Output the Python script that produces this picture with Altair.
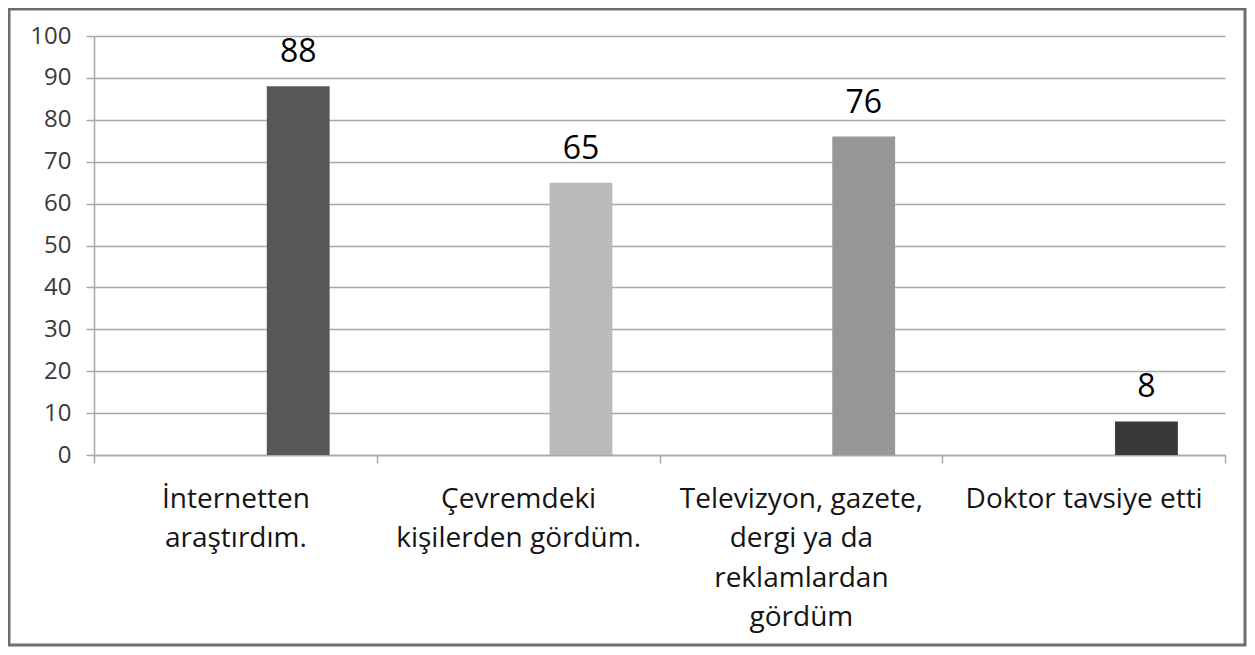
import altair as alt
import pandas as pd

categories = [
    "İnternetten\naraştırdım.",
    "Çevremdeki\nkişilerden gördüm.",
    "Televizyon, gazete,\ndergi  ya da\nreklamlardan\ngördüm",
    "Doktor tavsiye etti",
]
values = [88, 65, 76, 8]
series_slots = ["s1", "s2", "s3"]
bar_slot = ["s3", "s3", "s3", "s3"]
bar_colors = ["#575757", "#bababa", "#979797", "#383838"]

df = pd.DataFrame({"kategori": categories, "deger": values, "seri": bar_slot})

FONT = "Open Sans"
GRID = "#a9a9a9"

x_enc = alt.X(
    "kategori:N",
    sort=categories,
    scale=alt.Scale(paddingInner=0, paddingOuter=0),
    axis=alt.Axis(
        title=None,
        labelAngle=0,
        labelAlign="center",
        labelBaseline="top",
        labelExpr="split(datum.label, '\\n')",
        labelFont=FONT,
        labelFontSize=28,
        labelLineHeight=39.5,
        labelColor="#141414",
        labelPadding=22,
        labelLimit=400,
        tickBand="extent",
        tickSize=8,
        tickColor=GRID,
        tickWidth=1.5,
        domainColor=GRID,
        domainWidth=1.5,
        grid=False,
    ),
)
xoff_enc = alt.XOffset(
    "seri:N",
    scale=alt.Scale(domain=series_slots, paddingInner=0, paddingOuter=0.75),
)
y_enc = alt.Y(
    "deger:Q",
    scale=alt.Scale(domain=[0, 100], nice=False),
    axis=alt.Axis(
        title=None,
        values=list(range(0, 101, 10)),
        labelFont=FONT,
        labelFontSize=24,
        labelColor="#3a3a3a",
        labelPadding=15,
        tickSize=8,
        tickColor=GRID,
        tickWidth=1.5,
        domainColor=GRID,
        domainWidth=1.5,
        grid=True,
        gridColor=GRID,
        gridWidth=1.5,
    ),
)

base = alt.Chart(df)

bars = base.mark_bar().encode(
    x=x_enc,
    xOffset=xoff_enc,
    y=y_enc,
    color=alt.Color(
        "kategori:N",
        scale=alt.Scale(domain=categories, range=bar_colors),
        legend=None,
    ),
)

labels = base.mark_text(
    baseline="bottom", dy=-17, font=FONT, fontSize=32, color="#000000"
).encode(
    x=alt.X("kategori:N", sort=categories),
    xOffset=alt.XOffset("seri:N"),
    y=alt.Y("deger:Q"),
    text=alt.Text("deger:Q"),
)

frame = alt.Chart(pd.DataFrame({"f": [0]})).mark_rect(
    fill=None, stroke="#6e6e6e", strokeWidth=3, clip=False
).encode(
    x=alt.value(-85),
    x2=alt.value(1151),
    y=alt.value(-27),
    y2=alt.value(609),
)

chart = (
    alt.layer(bars, labels, frame)
    .properties(
        width=1131,
        height=419,
        autosize=alt.AutoSizeParams(type="none"),
        padding={"left": 86, "top": 28, "right": 22, "bottom": 192},
        background="#ffffff",
    )
    .configure_view(stroke=None)
)

chart.save("out.html", embed_options={"renderer": "svg", "actions": False})
